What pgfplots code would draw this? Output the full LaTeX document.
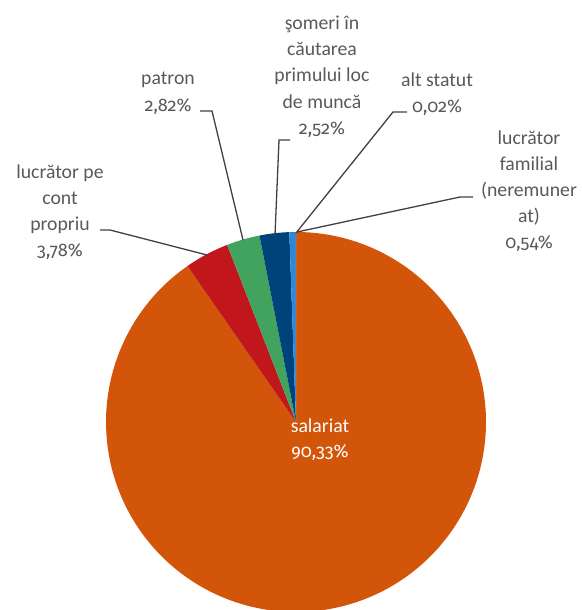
\documentclass[border=0pt]{standalone}
\usepackage{pgfplots}
\pgfplotsset{compat=1.18}
\usepackage{fontspec}
\setmainfont{Carlito}
\newfontfamily\numf[Numbers=OldStyle,Scale=0.92]{Fira Sans}
\definecolor{cOr}{HTML}{D2550A}
\definecolor{cRd}{HTML}{C0161C}
\definecolor{cGr}{HTML}{42A35E}
\definecolor{cDb}{HTML}{00427A}
\definecolor{cLb}{HTML}{2E88D8}
\definecolor{cGy}{HTML}{A5A5A5}
\definecolor{cTx}{HTML}{595959}
\definecolor{cLn}{HTML}{404040}
\tikzset{
  lbl/.style={font=\fontsize{19.8}{24}\selectfont, text=cTx, anchor=base, inner sep=0pt},
  leader/.style={cLn, line width=1.3pt, mark=none},
}
\begin{document}
\begin{tikzpicture}
% data (percent)
\def\vA{90.33}\def\vB{3.78}\def\vC{2.82}\def\vD{2.52}\def\vE{0.54}\def\vF{0.02}
\pgfmathsetmacro\tot{\vA+\vB+\vC+\vD+\vE+\vF}
\pgfmathsetmacro\aA{\vA/\tot*360}
\pgfmathsetmacro\aB{(\vA+\vB)/\tot*360}
\pgfmathsetmacro\aC{(\vA+\vB+\vC)/\tot*360}
\pgfmathsetmacro\aD{(\vA+\vB+\vC+\vD)/\tot*360}
\pgfmathsetmacro\aE{(\vA+\vB+\vC+\vD+\vE)/\tot*360}
\begin{axis}[
  at={(0,0)}, anchor=south west,
  width=582bp, height=610bp, scale only axis,
  xmin=0, xmax=582, ymin=0, ymax=610,
  hide axis, clip=true,
]
\addplot[fill=cOr, draw=none, domain=0:\aA, samples=240, variable=\t] ({296+190*sin(t)},{188+190*cos(t)}) -- (axis cs:296,188) -- cycle;
\addplot[fill=cRd, draw=none, domain=\aA:\aB, samples=20, variable=\t] ({296+190*sin(t)},{188+190*cos(t)}) -- (axis cs:296,188) -- cycle;
\addplot[fill=cGr, draw=none, domain=\aB:\aC, samples=20, variable=\t] ({296+190*sin(t)},{188+190*cos(t)}) -- (axis cs:296,188) -- cycle;
\addplot[fill=cDb, draw=none, domain=\aC:\aD, samples=20, variable=\t] ({296+190*sin(t)},{188+190*cos(t)}) -- (axis cs:296,188) -- cycle;
\addplot[fill=cLb, draw=none, domain=\aD:\aE, samples=5, variable=\t] ({296+190*sin(t)},{188+190*cos(t)}) -- (axis cs:296,188) -- cycle;
\addplot[fill=cGy, draw=none, domain=\aE:360, samples=3, variable=\t] ({296+190*sin(t)},{188+190*cos(t)}) -- (axis cs:296,188) -- cycle;
% leader lines (pixel positions, y = 610 - py)
\addplot[leader] coordinates {(100,380) (110,380) (207,355)};
\addplot[leader] coordinates {(200,499) (212,499) (243,370)};
\addplot[leader] coordinates {(290,470) (279,470) (275,375)};
\addplot[leader] coordinates {(407,498) (393,498) (296,377)};
\addplot[leader] coordinates {(473,413) (460,413) (297,378)};
% labels
\node[lbl] at (axis cs:60,432) {lucrător pe};
\node[lbl] at (axis cs:60,406) {cont};
\node[lbl] at (axis cs:60,380) {propriu};
\node[lbl] at (axis cs:60,354) {\numf 3,78\%};
\node[lbl] at (axis cs:168,525) {patron};
\node[lbl] at (axis cs:168,499) {\numf 2,82\%};
\node[lbl] at (axis cs:322,580) {şomeri în};
\node[lbl] at (axis cs:322,554) {căutarea};
\node[lbl] at (axis cs:322,528) {primului loc};
\node[lbl] at (axis cs:322,502) {de muncă};
\node[lbl] at (axis cs:322,476) {\numf 2,52\%};
\node[lbl] at (axis cs:437,524) {alt statut};
\node[lbl] at (axis cs:437,498) {\numf 0,02\%};
\node[lbl] at (axis cs:529,466) {lucrător};
\node[lbl] at (axis cs:529,440) {familial};
\node[lbl] at (axis cs:529,414) {(neremuner};
\node[lbl] at (axis cs:529,388) {at)};
\node[lbl] at (axis cs:529,362) {\numf 0,54\%};
\node[lbl, text=white] at (axis cs:320,178) {salariat};
\node[lbl, text=white] at (axis cs:320,153) {\numf 90,33\%};
\end{axis}
\pgfresetboundingbox
\path[use as bounding box] (0,0) rectangle (582bp,610bp);
\end{tikzpicture}
\end{document}
